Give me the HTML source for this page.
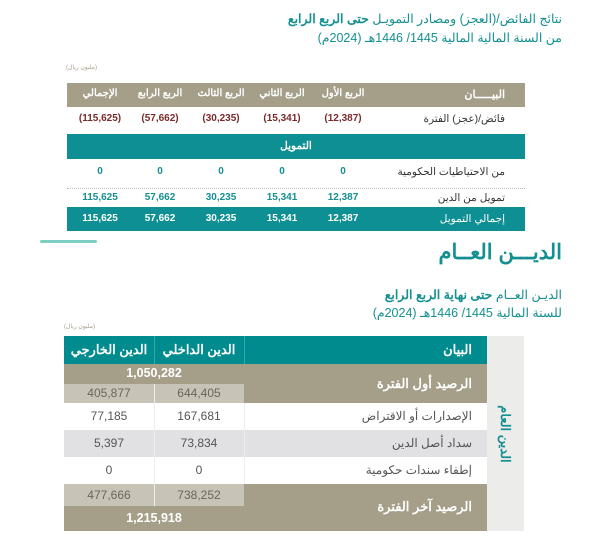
<!DOCTYPE html>
<html><head><meta charset="utf-8"><style>
body{margin:0;width:601px;height:546px;background:#fff;position:relative;overflow:hidden;font-family:"Liberation Sans","Noto Sans CJK SC",sans-serif;}
.a{position:absolute;}
.r{direction:rtl;text-align:right;}
.c{text-align:center;}
.t{color:#148f92;}
</style></head><body>
<div class="a r t" style="right:39px;top:11px;font-size:12.5px;white-space:nowrap;">نتائج الفائض/(العجز) ومصادر التمويـل <b>حتى الربع الرابع</b></div>
<div class="a r t" style="right:39px;top:30px;font-size:12.5px;white-space:nowrap;">من السنة المالية المالية 1445/ 1446هـ (2024م)</div>
<div class="a" style="left:66px;top:64px;font-size:6px;color:#a59e88;">(مليون ريال)</div>

<div class="a" style="left:67px;top:83px;width:458px;height:24px;background:#a59e88;"></div>
<div class="a" style="left:67px;top:134px;width:458px;height:25px;background:#0e8f93;"></div>
<div class="a" style="left:67px;top:188px;width:458px;border-top:1px dotted #bbb;"></div>
<div class="a" style="left:67px;top:207px;width:458px;height:24px;background:#0e8f93;"></div>

<div class="a r" style="right:96px;top:88px;font-size:11px;color:#fff;font-weight:bold;">البيـــــان</div>
<div class="a r" style="right:96px;top:113px;font-size:10.5px;color:#333;">فائض/(عجز) الفترة</div>
<div class="a c" style="left:67px;width:458px;top:140px;font-size:10.5px;color:#fff;font-weight:bold;">التمويل</div>
<div class="a r" style="right:96px;top:166px;font-size:10.5px;color:#333;">من الاحتياطيات الحكومية</div>
<div class="a r" style="right:96px;top:192px;font-size:10.5px;color:#333;">تمويل من الدين</div>
<div class="a r" style="right:96px;top:213px;font-size:10.5px;color:#fff;">إجمالي التمويل</div>

<div class="a c" style="left:313px;width:60px;top:88px;font-size:10px;color:#fff;font-weight:bold;">الربع الأول</div>
<div class="a c" style="left:252px;width:60px;top:88px;font-size:10px;color:#fff;font-weight:bold;">الربع الثاني</div>
<div class="a c" style="left:191px;width:60px;top:88px;font-size:10px;color:#fff;font-weight:bold;">الربع الثالث</div>
<div class="a c" style="left:130px;width:60px;top:88px;font-size:10px;color:#fff;font-weight:bold;">الربع الرابع</div>
<div class="a c" style="left:70px;width:60px;top:88px;font-size:10px;color:#fff;font-weight:bold;">الإجمالي</div>

<div class="a c" style="left:313px;width:60px;top:113px;font-size:10px;color:#7b2a2a;font-weight:bold;">(12,387)</div>
<div class="a c" style="left:252px;width:60px;top:113px;font-size:10px;color:#7b2a2a;font-weight:bold;">(15,341)</div>
<div class="a c" style="left:191px;width:60px;top:113px;font-size:10px;color:#7b2a2a;font-weight:bold;">(30,235)</div>
<div class="a c" style="left:130px;width:60px;top:113px;font-size:10px;color:#7b2a2a;font-weight:bold;">(57,662)</div>
<div class="a c" style="left:66px;width:68px;top:113px;font-size:10px;color:#7b2a2a;font-weight:bold;">(115,625)</div>

<div class="a c t" style="left:313px;width:60px;top:166px;font-size:10px;font-weight:bold;">0</div>
<div class="a c t" style="left:252px;width:60px;top:166px;font-size:10px;font-weight:bold;">0</div>
<div class="a c t" style="left:191px;width:60px;top:166px;font-size:10px;font-weight:bold;">0</div>
<div class="a c t" style="left:130px;width:60px;top:166px;font-size:10px;font-weight:bold;">0</div>
<div class="a c t" style="left:70px;width:60px;top:166px;font-size:10px;font-weight:bold;">0</div>

<div class="a c t" style="left:313px;width:60px;top:192px;font-size:10px;font-weight:bold;">12,387</div>
<div class="a c t" style="left:252px;width:60px;top:192px;font-size:10px;font-weight:bold;">15,341</div>
<div class="a c t" style="left:191px;width:60px;top:192px;font-size:10px;font-weight:bold;">30,235</div>
<div class="a c t" style="left:130px;width:60px;top:192px;font-size:10px;font-weight:bold;">57,662</div>
<div class="a c t" style="left:66px;width:68px;top:192px;font-size:10px;font-weight:bold;">115,625</div>

<div class="a c" style="left:313px;width:60px;top:213px;font-size:10px;color:#fff;font-weight:bold;">12,387</div>
<div class="a c" style="left:252px;width:60px;top:213px;font-size:10px;color:#fff;font-weight:bold;">15,341</div>
<div class="a c" style="left:191px;width:60px;top:213px;font-size:10px;color:#fff;font-weight:bold;">30,235</div>
<div class="a c" style="left:130px;width:60px;top:213px;font-size:10px;color:#fff;font-weight:bold;">57,662</div>
<div class="a c" style="left:66px;width:68px;top:213px;font-size:10px;color:#fff;font-weight:bold;">115,625</div>

<div class="a" style="left:40px;top:240px;width:57px;height:3px;background:#7ecfc3;border-radius:2px;"></div>
<div class="a r t" style="right:39px;top:240px;font-size:21px;font-weight:bold;white-space:nowrap;">الديـــن العــام</div>
<div class="a r t" style="right:39px;top:287px;font-size:12.5px;white-space:nowrap;">الديـن العــام <b>حتى نهاية الربع الرابع</b></div>
<div class="a r t" style="right:39px;top:305px;font-size:12.5px;white-space:nowrap;">للسنة المالية 1445/ 1446هـ (2024م)</div>
<div class="a" style="left:64px;top:323px;font-size:6px;color:#a59e88;">(مليون ريال)</div>

<div class="a" style="left:487px;top:336px;width:37px;height:195px;background:#ececea;"></div>
<div class="a t" style="left:470px;top:426px;width:70px;font-size:13px;font-weight:bold;transform:rotate(90deg);white-space:nowrap;text-align:center;direction:rtl;">الدين العام</div>

<div class="a" style="left:64px;top:336px;width:423px;height:28px;background:#008b8f;"></div>
<div class="a" style="left:154px;top:336px;width:1px;height:28px;background:#3aa;"></div>
<div class="a" style="left:244px;top:336px;width:1px;height:28px;background:#3aa;"></div>
<div class="a" style="left:64px;top:364px;width:423px;height:39px;background:#a59e88;"></div>
<div class="a" style="left:64px;top:384px;width:180px;height:19px;background:#c7c3b6;"></div>
<div class="a" style="left:154px;top:384px;width:1px;height:19px;background:#eee;"></div>
<div class="a" style="left:64px;top:430px;width:423px;height:27px;background:#e1e1e3;"></div>
<div class="a" style="left:154px;top:403px;width:1px;height:81px;background:#eee;"></div>
<div class="a" style="left:244px;top:403px;width:1px;height:81px;background:#eee;"></div>
<div class="a" style="left:64px;top:484px;width:423px;height:47px;background:#a59e88;"></div>
<div class="a" style="left:64px;top:484px;width:180px;height:22px;background:#c7c3b6;"></div>
<div class="a" style="left:154px;top:484px;width:1px;height:22px;background:#eee;"></div>

<div class="a r" style="right:129px;top:342px;font-size:13px;color:#fff;font-weight:bold;">البيان</div>
<div class="a c" style="left:154px;width:90px;top:342px;font-size:13px;color:#fff;font-weight:bold;">الدين الداخلي</div>
<div class="a c" style="left:64px;width:90px;top:342px;font-size:13px;color:#fff;font-weight:bold;">الدين الخارجي</div>

<div class="a c" style="left:64px;width:180px;top:366px;font-size:12.5px;color:#fff;font-weight:bold;">1,050,282</div>
<div class="a c" style="left:154px;width:90px;top:386px;font-size:12px;color:#6b6658;">644,405</div>
<div class="a c" style="left:64px;width:90px;top:386px;font-size:12px;color:#6b6658;">405,877</div>
<div class="a r" style="right:129px;top:376px;font-size:13px;color:#fff;font-weight:bold;">الرصيد أول الفترة</div>

<div class="a r" style="right:129px;top:409px;font-size:12px;color:#555;">الإصدارات أو الاقتراض</div>
<div class="a c" style="left:154px;width:90px;top:409px;font-size:12px;color:#555;">167,681</div>
<div class="a c" style="left:64px;width:90px;top:409px;font-size:12px;color:#555;">77,185</div>
<div class="a r" style="right:129px;top:436px;font-size:12px;color:#555;">سداد أصل الدين</div>
<div class="a c" style="left:154px;width:90px;top:436px;font-size:12px;color:#555;">73,834</div>
<div class="a c" style="left:64px;width:90px;top:436px;font-size:12px;color:#555;">5,397</div>
<div class="a r" style="right:129px;top:463px;font-size:12px;color:#555;">إطفاء سندات حكومية</div>
<div class="a c" style="left:154px;width:90px;top:463px;font-size:12px;color:#555;">0</div>
<div class="a c" style="left:64px;width:90px;top:463px;font-size:12px;color:#555;">0</div>

<div class="a c" style="left:154px;width:90px;top:488px;font-size:12px;color:#6b6658;">738,252</div>
<div class="a c" style="left:64px;width:90px;top:488px;font-size:12px;color:#6b6658;">477,666</div>
<div class="a c" style="left:64px;width:180px;top:511px;font-size:12.5px;color:#fff;font-weight:bold;">1,215,918</div>
<div class="a r" style="right:129px;top:499px;font-size:13px;color:#fff;font-weight:bold;">الرصيد آخر الفترة</div>
</body></html>
